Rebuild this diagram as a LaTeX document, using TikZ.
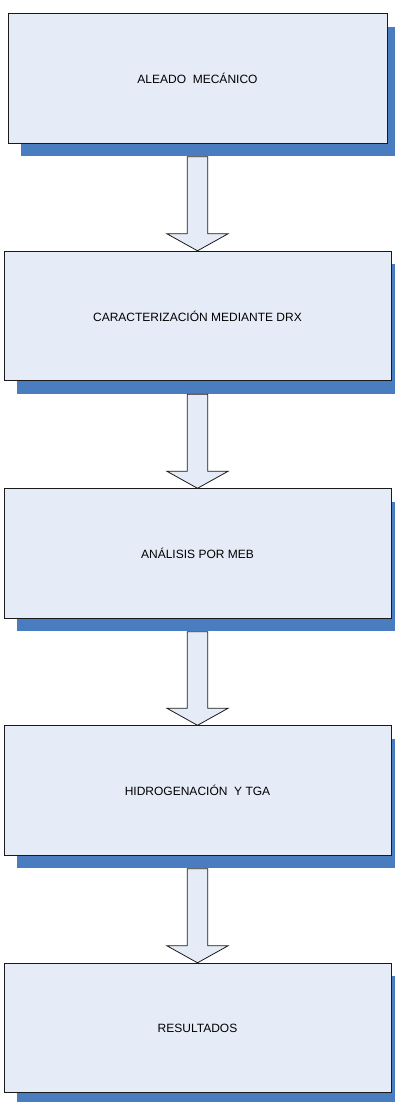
\documentclass[tikz,border=0pt]{standalone}
\usepackage{fontspec}
\setmainfont{Liberation Sans}
\usetikzlibrary{calc,shadows}
\definecolor{BoxFill}{HTML}{E6ECF7}
\definecolor{ShadowBlue}{HTML}{4A7CC0}
\definecolor{EdgeGray}{HTML}{1A1A1A}

\tikzset{
  stage/.style={draw=EdgeGray, line width=0.7pt, fill=BoxFill, inner sep=0pt,
    minimum width=290.25pt, minimum height=97.1pt,
    drop shadow={shadow xshift=9.75pt, shadow yshift=-9.75pt, fill=ShadowBlue, opacity=1}},
  flowarrow/.style={draw=EdgeGray, line width=0.6pt, fill=BoxFill, line join=miter}
}

\begin{document}
\begin{tikzpicture}[x=0.75pt, y=-0.75pt, every node/.style={font=\fontsize{9}{11}\selectfont}]
  \useasboundingbox (0,0) rectangle (395,1102);

  \node[stage, minimum width=284.25pt] (mech) at (197.5,78.5) {ALEADO~~MECÁNICO};
  \node[stage] (drx) at (197.5,316) {CARACTERIZACIÓN MEDIANTE DRX};
  \node[stage] (meb) at (197.5,553.5) {ANÁLISIS POR MEB};
  \node[stage] (hyd) at (197.5,790.5) {HIDROGENACIÓN~~Y TGA};
  \node[stage] (res) at (197.5,1028) {RESULTADOS};

  % block arrows, from under the shadow down to the next box
  \foreach \a/\b in {mech/drx, drx/meb, meb/hyd, hyd/res} {
    \draw[flowarrow] ($(\a.south)+(-10.2,13)$) -- ($(\a.south)+(10.2,13)$)
      -- ($(\b.north)+(10.2,-17)$) -- ($(\b.north)+(30.5,-17)$) -- (\b.north)
      -- ($(\b.north)+(-30.5,-17)$) -- ($(\b.north)+(-10.2,-17)$) -- cycle;
  }
\end{tikzpicture}
\end{document}
